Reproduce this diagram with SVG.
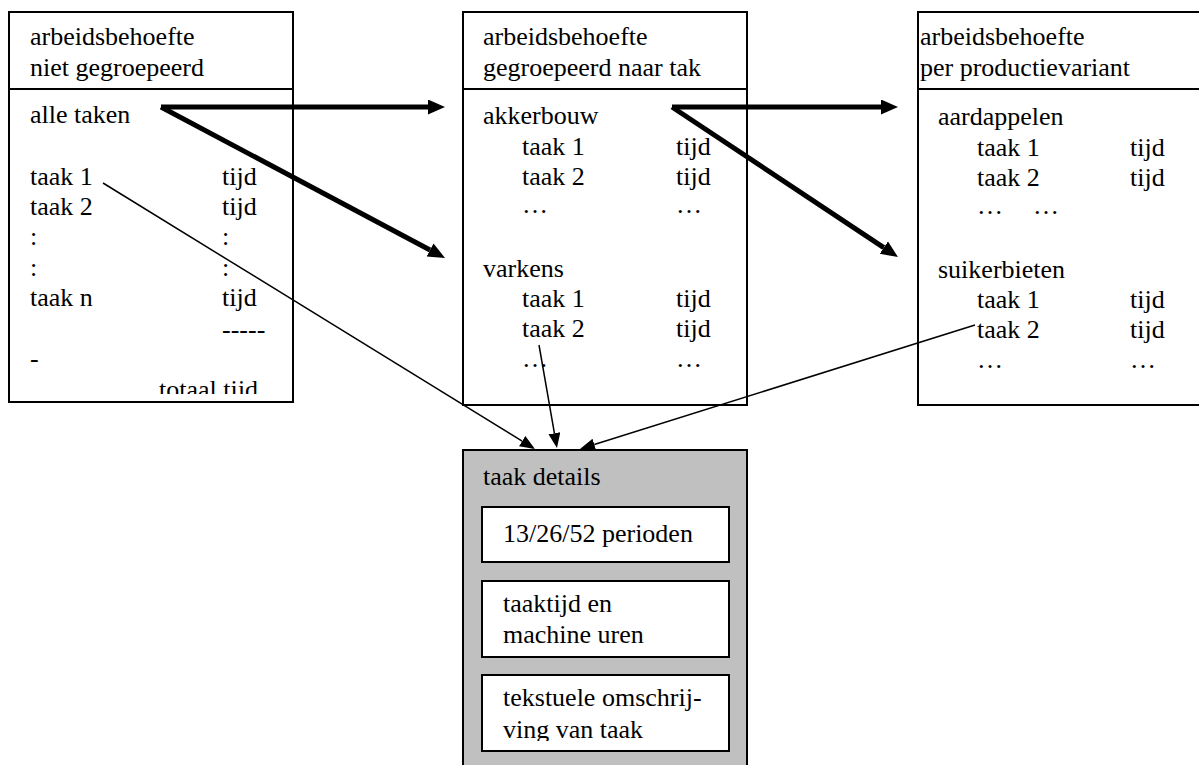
<svg xmlns="http://www.w3.org/2000/svg" width="1199" height="765" viewBox="0 0 1199 765" font-family="'Liberation Serif', 'Times New Roman', Times, serif" font-size="26">
<style>
  text { font-family: 'Liberation Serif', 'Times New Roman', Times, serif; font-size: 26px; fill: #000; }
  .box { fill: #fff; stroke: #000; stroke-width: 2; }
  .div { stroke: #000; stroke-width: 2; }
  .gray { fill: #c0c0c0; stroke: #000; stroke-width: 2; }
  .thick { stroke: #000; stroke-width: 5; fill: none; marker-end: url(#bigArrow); }
  .thin { stroke: #000; stroke-width: 1.5; fill: none; marker-end: url(#smallArrow); }
</style>
<defs>
  <marker id="bigArrow" markerUnits="userSpaceOnUse" markerWidth="18" markerHeight="16" refX="0" refY="7.5" orient="auto">
    <path d="M0,0 L17,7.5 L0,15 z" fill="#000"/>
  </marker>
  <marker id="smallArrow" markerUnits="userSpaceOnUse" markerWidth="16" markerHeight="13" refX="0" refY="6" orient="auto">
    <path d="M0,0 L15,6 L0,12 z" fill="#000"/>
  </marker>
  <clipPath id="hdr"><rect x="0" y="12" width="1199" height="69"/></clipPath>
  <clipPath id="body1"><rect x="9" y="89" width="284" height="305"/></clipPath>
  <clipPath id="inner3"><rect x="482" y="675" width="247" height="66"/></clipPath>
</defs>

<g id="node-niet-gegroepeerd">
  <rect class="box" x="9" y="12" width="284" height="390"/>
  <line class="div" x1="9" y1="89" x2="293" y2="89"/>
  <g clip-path="url(#hdr)">
    <text x="30" y="45">arbeidsbehoefte</text>
    <text x="30" y="76">niet gegroepeerd</text>
  </g>
  <g clip-path="url(#body1)">
    <text x="30" y="123">alle taken</text>
    <text x="30" y="185">taak 1</text>
    <text x="222" y="185">tijd</text>
    <text x="30" y="215">taak 2</text>
    <text x="222" y="215">tijd</text>
    <text x="30" y="245">:</text>
    <text x="222" y="245">:</text>
    <text x="30" y="276">:</text>
    <text x="222" y="276">:</text>
    <text x="30" y="306">taak n</text>
    <text x="222" y="306">tijd</text>
    <text x="222" y="338">-----</text>
    <text x="30" y="367">-</text>
    <text x="159" y="398">totaal tijd</text>
  </g>
</g>

<g id="node-naar-tak">
  <rect class="box" x="463" y="12" width="284" height="393"/>
  <line class="div" x1="463" y1="89" x2="747" y2="89"/>
  <g clip-path="url(#hdr)">
    <text x="483" y="45">arbeidsbehoefte</text>
    <text x="483" y="76">gegroepeerd naar tak</text>
  </g>
  <text x="483" y="124">akkerbouw</text>
  <text x="522" y="155">taak 1</text>
  <text x="676" y="155">tijd</text>
  <text x="522" y="185">taak 2</text>
  <text x="676" y="185">tijd</text>
  <text x="522" y="213">…</text>
  <text x="676" y="213">…</text>
  <text x="483" y="277">varkens</text>
  <text x="522" y="307">taak 1</text>
  <text x="676" y="307">tijd</text>
  <text x="522" y="337">taak 2</text>
  <text x="676" y="337">tijd</text>
  <text x="522" y="367">…</text>
  <text x="676" y="367">…</text>
</g>

<g id="node-productievariant">
  <rect class="box" x="918" y="12" width="290" height="393"/>
  <line class="div" x1="918" y1="89" x2="1199" y2="89"/>
  <g clip-path="url(#hdr)">
    <text x="920" y="45">arbeidsbehoefte</text>
    <text x="920" y="76">per productievariant</text>
  </g>
  <text x="938" y="125">aardappelen</text>
  <text x="977" y="156">taak 1</text>
  <text x="1130" y="156">tijd</text>
  <text x="977" y="186">taak 2</text>
  <text x="1130" y="186">tijd</text>
  <text x="977" y="214">…</text>
  <text x="1033" y="214">…</text>
  <text x="938" y="278">suikerbieten</text>
  <text x="977" y="308">taak 1</text>
  <text x="1130" y="308">tijd</text>
  <text x="977" y="338">taak 2</text>
  <text x="1130" y="338">tijd</text>
  <text x="977" y="368">…</text>
  <text x="1130" y="368">…</text>
</g>

<g id="node-taak-details">
  <rect class="gray" x="463" y="450" width="284" height="330"/>
  <text x="483" y="485">taak details</text>
  <rect class="box" x="482" y="507" width="247" height="55"/>
  <text x="503" y="542">13/26/52 perioden</text>
  <rect class="box" x="482" y="581" width="247" height="76"/>
  <text x="503" y="612">taaktijd en</text>
  <text x="503" y="643">machine uren</text>
  <rect class="box" x="482" y="675" width="247" height="76"/>
  <g clip-path="url(#inner3)">
    <text x="503" y="706">tekstuele omschrij-</text>
    <text x="503" y="738">ving van taak</text>
  </g>
</g>

<g id="connectors">
  <line class="thick" x1="161" y1="107" x2="428" y2="107"/>
  <line class="thick" x1="161" y1="107" x2="430" y2="250"/>
  <line class="thick" x1="672" y1="107" x2="881" y2="107"/>
  <line class="thick" x1="672" y1="107" x2="883.8" y2="247.6"/>
  <line class="thin" x1="103" y1="183" x2="522.2" y2="441.1"/>
  <line class="thin" x1="539" y1="345" x2="554.4" y2="433.2"/>
  <line class="thin" x1="975" y1="325" x2="594.3" y2="444.5"/>
</g>
</svg>
